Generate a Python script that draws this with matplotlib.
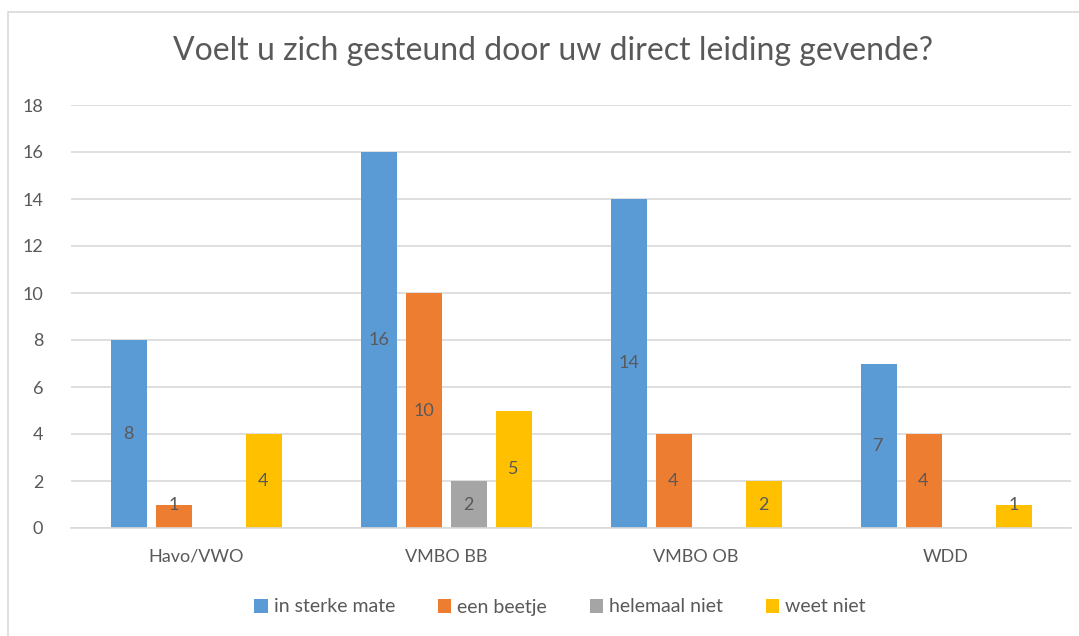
import matplotlib
matplotlib.use("Agg")
import matplotlib.pyplot as plt
from matplotlib.patches import Rectangle, Patch
import numpy as np

categories = ["Havo/VWO", "VMBO BB", "VMBO OB", "WDD"]
series_names = ["in sterke mate", "een beetje", "helemaal niet", "weet niet"]
in_sterke_mate = [8, 16, 14, 7]
een_beetje = [1, 10, 4, 4]
helemaal_niet = [0, 2, 0, 0]
weet_niet = [4, 5, 2, 1]
colors = ["#5B9BD5", "#ED7D31", "#A5A5A5", "#FFC000"]
title = "Voelt u zich gesteund door uw direct leiding gevende?"

plt.rcParams['font.family'] = ['Lato', 'DejaVu Sans']
txt = "#595959"

W, H = 1079, 636
fig = plt.figure(figsize=(W / 100, H / 100), dpi=100)
fig.patches.append(Rectangle((8 / W, -0.2), 1.2, 1.2 - 12 / H, transform=fig.transFigure,
                             fill=False, edgecolor="#D9D9D9", linewidth=1.2))

ax = fig.add_axes([71 / W, (H - 528) / H, 1000 / W, (528 - 105) / H])
x = np.arange(len(categories))
data = [in_sterke_mate, een_beetje, helemaal_niet, weet_niet]
step, width = 0.18, 0.144
for i, (vals, c) in enumerate(zip(data, colors)):
    pos = x + (i - 1.5) * step
    ax.bar(pos, vals, width=width, color=c, zorder=3)
    for p, v in zip(pos, vals):
        if v > 0:
            ax.text(p, max(v / 2, 1), str(v), ha="center", va="center",
                    fontsize=13, color=txt, zorder=4)

ax.set_xlim(-0.5, len(categories) - 0.5)
ax.set_ylim(0, 18)
ax.set_yticks(range(0, 19, 2))
ax.set_xticks(x)
ax.set_xticklabels(categories)
ax.tick_params(axis="both", length=0, labelsize=13, labelcolor=txt)
ax.tick_params(axis="x", pad=15)
ax.tick_params(axis="y", pad=20)
ax.grid(axis="y", color="#D9D9D9", linewidth=1.2, zorder=0)
for s in ["top", "right", "left"]:
    ax.spines[s].set_visible(False)
ax.spines["bottom"].set_color("#D9D9D9")
ax.spines["bottom"].set_linewidth(1.2)
ax.spines["bottom"].set_zorder(5)

fig.text(553 / W, 1 - 51 / H, title, ha="center", va="center", fontsize=23,
         color=txt)

handles = [Patch(facecolor=c, edgecolor="none") for c in colors]
fig.legend(handles, series_names, loc="center", bbox_to_anchor=(560 / W, 1 - 607 / H),
           ncol=4, frameon=False, fontsize=14, labelcolor=txt, handlelength=0.7,
           handleheight=0.7, handletextpad=0.3, columnspacing=2.2)

fig.savefig("out.png", dpi=100)
